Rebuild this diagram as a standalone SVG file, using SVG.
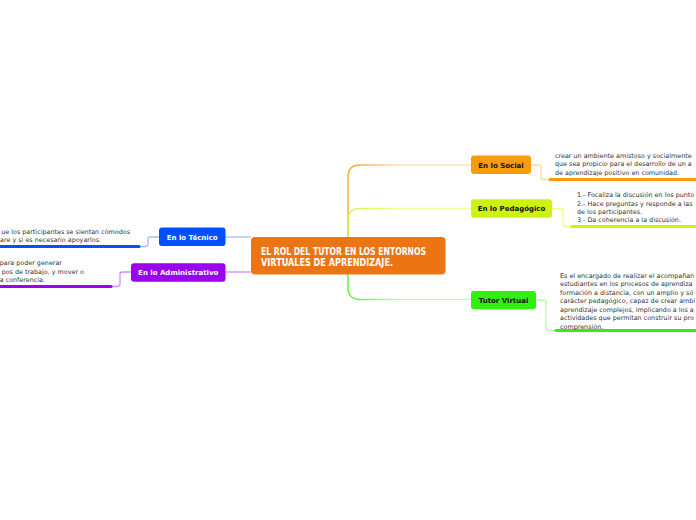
<svg xmlns="http://www.w3.org/2000/svg" width="696" height="520" viewBox="0 0 696 520">
<defs>
<linearGradient id="gSoc" gradientUnits="userSpaceOnUse" x1="348" y1="0" x2="400" y2="0"><stop offset="0" stop-color="#F9A21F"/><stop offset="1" stop-color="#FFE0B8"/></linearGradient>
<linearGradient id="gPed" gradientUnits="userSpaceOnUse" x1="348" y1="0" x2="400" y2="0"><stop offset="0" stop-color="#D4F53A"/><stop offset="1" stop-color="#F2FFA0"/></linearGradient>
<linearGradient id="gTut" gradientUnits="userSpaceOnUse" x1="348" y1="0" x2="400" y2="0"><stop offset="0" stop-color="#4CEE2A"/><stop offset="1" stop-color="#BFFFB0"/></linearGradient>
</defs>
<style>
.lbl{font-family:"DejaVu Sans",Verdana,sans-serif;font-weight:bold;font-size:7px;text-anchor:middle}
.txt{font-family:"DejaVu Sans",Verdana,sans-serif;font-size:6.4px;fill:#333}
.c{fill:none;stroke-width:1.3}
.ul{fill:none;stroke-width:3;stroke-linecap:round}
.title{font-family:"DejaVu Sans Condensed","DejaVu Sans",sans-serif;font-weight:bold;font-size:10px;fill:#fff}
</style>
<rect width="696" height="520" fill="#fff"/>
<g id="connectors">
<path class="c" stroke="url(#gSoc)" d="M348,256 V177 Q348,165 360,165 H471"/>
<path class="c" stroke="url(#gPed)" d="M348,240 V220 Q348,208.5 360,208.5 H471"/>
<path class="c" stroke="url(#gTut)" d="M348,270 V287 Q348,299.5 360,299.5 H471"/>
<path class="c" stroke="#A8B8FF" d="M251,237 H225"/>
<path class="c" stroke="#D08CFF" d="M251,272 H225"/>
<path class="c" stroke="#FFD9A8" d="M531,165 H539 Q541,165 541,167 V177 Q541,179.5 544,179.5 H550"/>
<path class="c" stroke="#EEFF88" d="M552,208.5 H561 Q563,208.5 563,211 V224 Q563,226.5 566,226.5 H572"/>
<path class="c" stroke="#B0FFA0" d="M536,300 H544 Q546,300 546,302 V328 Q546,330.5 549,330.5 H556"/>
<path class="c" stroke="#A8B8FF" d="M159,237 H150 Q148,237 148,239 V244 Q148,246.5 145,246.5 H139"/>
<path class="c" stroke="#D08CFF" d="M131,272 H122 Q120,272 120,274 V284 Q120,286.5 117,286.5 H111"/>
</g>
<g id="center">
<rect x="251" y="237" width="194.5" height="37.5" rx="4" fill="#EC7412"/>
<text class="title" x="261" y="254.5" textLength="165" lengthAdjust="spacingAndGlyphs">EL ROL DEL TUTOR EN LOS ENTORNOS</text>
<text class="title" x="261" y="266" textLength="132" lengthAdjust="spacingAndGlyphs">VIRTUALES DE APRENDIZAJE.</text>
</g>
<g id="social">
<rect x="471" y="155.5" width="60" height="18.5" rx="3" fill="#F99B0C"/>
<text class="lbl" x="501" y="167.5" fill="#111">En lo Social</text>
<path class="ul" stroke="#F99B0C" d="M550,179.5 H700"/>
<text class="txt" x="555" y="157.8">crear un ambiente amistoso y socialmente</text>
<text class="txt" x="555" y="166.3">que sea propicio para el desarrollo de un a</text>
<text class="txt" x="555" y="174.8">de aprendizaje positivo en comunidad.</text>
</g>
<g id="pedagogico">
<rect x="471" y="199.3" width="81" height="18.4" rx="3" fill="#CCF20F"/>
<text class="lbl" x="511.5" y="211" fill="#111">En lo Pedagógico</text>
<path class="ul" stroke="#CCF20F" d="M572,226.5 H700"/>
<text class="txt" x="577" y="197.2">1.- Focaliza la discusión en los punto</text>
<text class="txt" x="577" y="205.6">2.- Hace preguntas y responde a las</text>
<text class="txt" x="577" y="214">de los participantes.</text>
<text class="txt" x="577" y="222.4">3.- Da coherencia a la discusión.</text>
</g>
<g id="tutor">
<rect x="471" y="291" width="65" height="18.3" rx="3" fill="#33EE11"/>
<text class="lbl" x="503.5" y="302.7" fill="#111">Tutor Virtual</text>
<path class="ul" stroke="#33EE11" d="M556,330.5 H700"/>
<text class="txt" x="560" y="277.5">Es el encargado de realizar el acompañan</text>
<text class="txt" x="560" y="286">estudiantes en los procesos de aprendiza</text>
<text class="txt" x="560" y="294.5">formación a distancia, con un amplio y só</text>
<text class="txt" x="560" y="303">carácter pedagógico, capaz de crear ambi</text>
<text class="txt" x="560" y="311.5">aprendizaje complejos, implicando a los a</text>
<text class="txt" x="560" y="320">actividades que permitan construir su pro</text>
<text class="txt" x="560" y="328.5">comprensión.</text>
</g>
<g id="tecnico">
<rect x="159" y="227.5" width="66.5" height="18.5" rx="3" fill="#0050FF"/>
<text class="lbl" x="192.2" y="239.5" fill="#fff">En lo Técnico</text>
<path class="ul" stroke="#0050FF" d="M-5,246.5 H139"/>
<text class="txt" x="130" y="233.5" text-anchor="end">ue los participantes se sientan cómodos</text>
<text class="txt" x="101" y="242" text-anchor="end">are y si es necesario apoyarlos.</text>
</g>
<g id="administrativo">
<rect x="131" y="263.3" width="94.5" height="18.4" rx="3" fill="#9B00F0"/>
<text class="lbl" x="178.2" y="275" fill="#fff">En lo Administrativo</text>
<path class="ul" stroke="#9B00F0" d="M-5,286.5 H111"/>
<text class="txt" x="62" y="265" text-anchor="end">para poder generar</text>
<text class="txt" x="84" y="273.5" text-anchor="end">pos de trabajo, y mover o</text>
<text class="txt" x="45" y="282" text-anchor="end">a conferencia.</text>
</g>
</svg>
